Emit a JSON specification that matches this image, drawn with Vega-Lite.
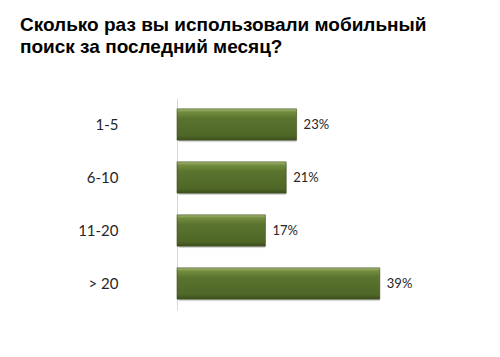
{
  "$schema": "https://vega.github.io/schema/vega-lite/v6.json",
  "autosize": "none",
  "width": 260,
  "height": 212,
  "padding": {"left": 177, "top": 98, "right": 63, "bottom": 47},
  "background": "white",
  "config": {"view": {"stroke": null}},
  "title": {
    "text": ["Сколько раз вы использовали мобильный", "поиск за последний месяц?"],
    "font": "Liberation Sans",
    "fontSize": 19,
    "fontWeight": "bold",
    "color": "#000000",
    "anchor": "start",
    "frame": "group",
    "dx": -157,
    "lineHeight": 22,
    "offset": 41
  },
  "data": {
    "values": [
      {"category": "1-5", "share": 0.23},
      {"category": "6-10", "share": 0.21},
      {"category": "11-20", "share": 0.17},
      {"category": "> 20", "share": 0.39}
    ]
  },
  "encoding": {
    "y": {
      "field": "category",
      "type": "nominal",
      "sort": null,
      "scale": {"paddingInner": 0.41, "paddingOuter": 0.205},
      "axis": {
        "title": null,
        "ticks": false,
        "grid": false,
        "domainColor": "#d9d9d9",
        "domainWidth": 1,
        "labelFont": "Lato",
        "labelFontSize": 15,
        "labelColor": "#262626",
        "labelPadding": 59
      }
    },
    "x": {
      "field": "share",
      "type": "quantitative",
      "scale": {"domain": [0, 0.5]},
      "axis": null
    }
  },
  "layer": [
    {
      "mark": {"type": "bar", "color": "#bbbbbb", "opacity": 0.6, "xOffset": 2, "yOffset": 2, "cornerRadius": 1}
    },
    {
      "mark": {
        "type": "bar",
        "stroke": "#3c4e1c",
        "strokeWidth": 0.6,
        "fill": {
          "gradient": "linear",
          "x1": 0, "y1": 0, "x2": 0, "y2": 1,
          "stops": [
            {"offset": 0, "color": "#a9bb7c"},
            {"offset": 0.1, "color": "#738d3e"},
            {"offset": 0.3, "color": "#5a742f"},
            {"offset": 0.85, "color": "#4f6727"},
            {"offset": 1, "color": "#3d4f1d"}
          ]
        }
      }
    },
    {
      "mark": {"type": "text", "align": "left", "baseline": "middle", "dx": 7, "font": "Lato", "fontSize": 13, "color": "#262626"},
      "encoding": {
        "text": {"field": "share", "type": "quantitative", "format": ".0%"}
      }
    }
  ]
}
